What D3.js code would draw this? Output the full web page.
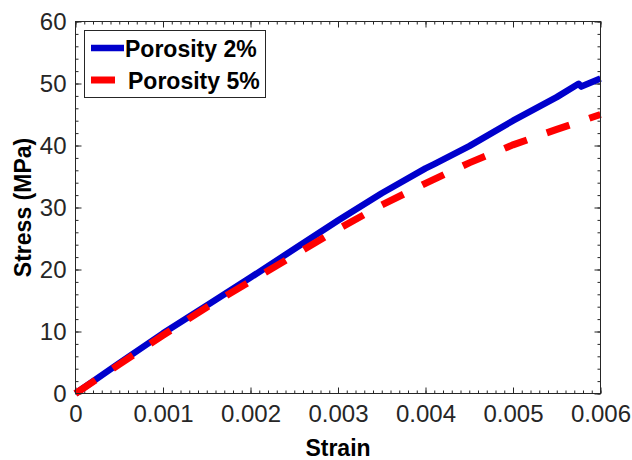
<!DOCTYPE html>
<html>
<head>
<meta charset="utf-8">
<script src="https://cdn.jsdelivr.net/npm/d3@7"></script>
<style>
  html, body { margin: 0; padding: 0; background: #fff; }
  svg { display: block; }
</style>
</head>
<body>
<svg id="chart" width="632" height="460"></svg>
<script>
// ---- data ----
const strain2 = [0, 0.0005, 0.001, 0.0015, 0.002, 0.0025, 0.003, 0.0035, 0.004, 0.0041, 0.0045, 0.005, 0.0055, 0.00575, 0.00578, 0.006];
const stress2 = [0, 4.9, 9.7, 14.2, 18.7, 23.3, 27.9, 32.3, 36.3, 37.0, 39.9, 44.0, 47.8, 49.95, 49.5, 50.8];
const strain5 = [0, 0.0005, 0.001, 0.0015, 0.002, 0.0025, 0.003, 0.0035, 0.004, 0.0045, 0.005, 0.0055, 0.006];
const stress5 = [0, 4.7, 9.4, 13.9, 18.1, 22.3, 26.5, 30.4, 33.9, 37.2, 40.1, 42.6, 45.0];
const seriesNames = ["Porosity 2%", "Porosity 5%"];
const seriesColors = ["#0000cc", "#ff0000"];
const xTicks = [0, 0.001, 0.002, 0.003, 0.004, 0.005, 0.006];
const xTickLabels = ["0", "0.001", "0.002", "0.003", "0.004", "0.005", "0.006"];
const yTicks = [0, 10, 20, 30, 40, 50, 60];

// ---- layout ----
const svg = d3.select("#chart");
const L = 75.5, R = 600.5, T = 21.5, B = 393.5;
const x = d3.scaleLinear().domain([0, 0.006]).range([L, R]);
const y = d3.scaleLinear().domain([0, 60]).range([B, T]);
const axisColor = "#262626";
const font = "'Liberation Sans', Arial, Helvetica, sans-serif";

svg.append("rect").attr("x", 0).attr("y", 0).attr("width", 632).attr("height", 460).attr("fill", "#fff");

const xMinor = d3.range(0, 0.00601, 0.0001);
const yMinor = d3.range(0, 60.01, 2);

function styleAxis(g) {
  g.select(".domain").remove();
  g.selectAll("line").attr("stroke", axisColor).attr("stroke-width", 1);
  g.selectAll("text").attr("fill", axisColor).style("font-family", font).style("font-size", "24px");
}

// minor ticks (inward) on all 4 sides
svg.append("g").attr("transform", `translate(0,${B})`)
  .call(d3.axisBottom(x).tickValues(xMinor).tickSizeInner(-3).tickSizeOuter(0).tickFormat(""))
  .call(styleAxis);
svg.append("g").attr("transform", `translate(0,${T})`)
  .call(d3.axisTop(x).tickValues(xMinor).tickSizeInner(-3).tickSizeOuter(0).tickFormat(""))
  .call(styleAxis);
svg.append("g").attr("transform", `translate(${L},0)`)
  .call(d3.axisLeft(y).tickValues(yMinor).tickSizeInner(-3).tickSizeOuter(0).tickFormat(""))
  .call(styleAxis);
svg.append("g").attr("transform", `translate(${R},0)`)
  .call(d3.axisRight(y).tickValues(yMinor).tickSizeInner(-3).tickSizeOuter(0).tickFormat(""))
  .call(styleAxis);

// major ticks with labels
svg.append("g").attr("transform", `translate(0,${B})`)
  .call(d3.axisBottom(x).tickValues(xTicks).tickSizeInner(-6).tickSizeOuter(0).tickPadding(11)
    .tickFormat((d, i) => xTickLabels[i]))
  .call(styleAxis);
svg.append("g").attr("transform", `translate(0,${T})`)
  .call(d3.axisTop(x).tickValues(xTicks).tickSizeInner(-6).tickSizeOuter(0).tickFormat(""))
  .call(styleAxis);
svg.append("g").attr("transform", `translate(${L},0)`)
  .call(d3.axisLeft(y).tickValues(yTicks).tickSizeInner(-6).tickSizeOuter(0).tickPadding(9).tickFormat(d3.format("d")))
  .call(styleAxis);
svg.append("g").attr("transform", `translate(${R},0)`)
  .call(d3.axisRight(y).tickValues(yTicks).tickSizeInner(-6).tickSizeOuter(0).tickFormat(""))
  .call(styleAxis);

// lines
const line = d3.line().x(d => x(d[0])).y(d => y(d[1]));
const data2 = strain2.map((s, i) => [s, stress2[i]]);
const data5 = strain5.map((s, i) => [s, stress5[i]]);

svg.append("path").datum(data2).attr("d", line)
  .attr("fill", "none").attr("stroke", seriesColors[0]).attr("stroke-width", 6.5)
  .attr("stroke-linejoin", "round");
svg.append("path").datum(data5).attr("d", line)
  .attr("fill", "none").attr("stroke", seriesColors[1]).attr("stroke-width", 7)
  .attr("stroke-dasharray", "24,21");

// box frame
svg.append("rect").attr("x", L).attr("y", T).attr("width", R - L).attr("height", B - T)
  .attr("fill", "none").attr("stroke", axisColor).attr("stroke-width", 1);

// axis labels
svg.append("text").attr("x", (L + R) / 2).attr("y", 456).attr("text-anchor", "middle")
  .style("font-family", font).style("font-size", "23px").style("font-weight", "bold")
  .attr("fill", "#000").text("Strain");
svg.append("text").attr("transform", `translate(31,${(T + B) / 2}) rotate(-90)`).attr("text-anchor", "middle")
  .style("font-family", font).style("font-size", "23px").style("font-weight", "bold")
  .attr("fill", "#000").text("Stress (MPa)");

// legend
const lg = svg.append("g");
lg.append("rect").attr("x", 84.5).attr("y", 30.5).attr("width", 181).attr("height", 67)
  .attr("fill", "#fff").attr("stroke", axisColor).attr("stroke-width", 1);
const legendRows = [
  { name: seriesNames[0], color: seriesColors[0], y: 48, x2: 124, tx: 125, w: 6.5 },
  { name: seriesNames[1], color: seriesColors[1], y: 80, x2: 115, tx: 128, w: 7 }
];
legendRows.forEach(r => {
  lg.append("line").attr("x1", 91).attr("x2", r.x2).attr("y1", r.y).attr("y2", r.y)
    .attr("stroke", r.color).attr("stroke-width", r.w);
  lg.append("text").attr("x", r.tx).attr("y", r.y + 8.5)
    .style("font-family", font).style("font-size", "23px").style("font-weight", "bold")
    .attr("fill", "#000").text(r.name);
});
</script>
</body>
</html>
